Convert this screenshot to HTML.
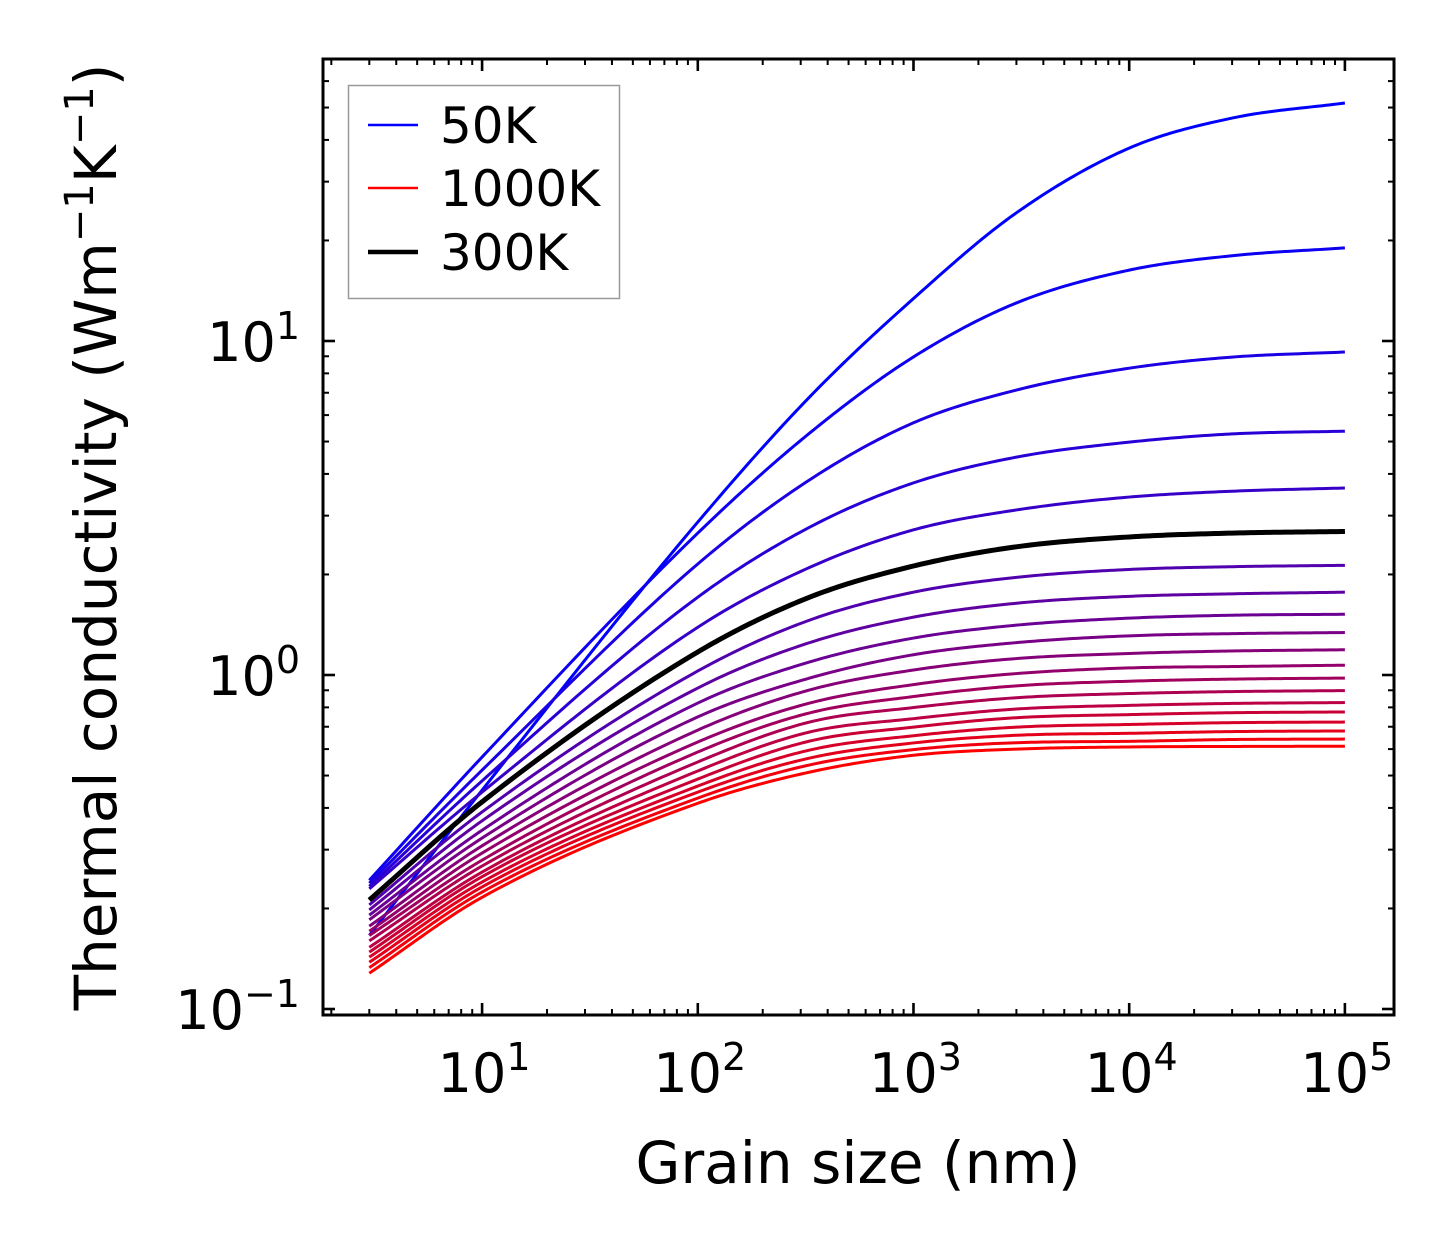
<!DOCTYPE html>
<html><head><meta charset="utf-8"><style>
body{margin:0;background:#fff}
svg{display:block;font-family:"DejaVu Sans","Liberation Sans",sans-serif}
</style></head><body>
<svg id="chart" width="1454" height="1254" viewBox="0 0 1454 1254">
<g id="lines"></g>
<g id="axes"></g>
</svg>
<script>
// Data (grain size nm -> W/mK)
const grainSizes = [3,10,100,330,1000,3000,1e4,3e4,1e5];
const k50   = [0.166,0.452,2.87,6.80,13.4,24.2,37.8,46.5,51.6];
const k100  = [0.243,0.568,2.66,5.30,8.96,13.0,16.3,18.0,19.0];
const k150  = [0.238,0.519,2.15,3.84,5.69,7.13,8.29,8.95,9.27];
const k200  = [0.233,0.482,1.71,2.77,3.76,4.49,4.98,5.27,5.37];
const k250  = [0.229,0.446,1.39,2.10,2.72,3.12,3.41,3.55,3.63];
const k300  = [0.212,0.417,1.172,1.71,2.12,2.42,2.59,2.66,2.69];
const k350  = [0.205,0.389,1.028,1.46,1.77,1.96,2.07,2.11,2.13];
const k400  = [0.198,0.366,0.914,1.25,1.49,1.64,1.72,1.75,1.77];
const k450  = [0.191,0.343,0.824,1.094,1.29,1.41,1.48,1.51,1.52];
const k500  = [0.185,0.325,0.749,0.979,1.15,1.25,1.31,1.33,1.34];
const k550  = [0.177,0.308,0.684,0.902,1.035,1.12,1.16,1.18,1.19];
const k600  = [0.171,0.293,0.630,0.824,0.936,1.01,1.05,1.06,1.07];
const k650  = [0.166,0.279,0.588,0.770,0.862,0.928,0.958,0.972,0.979];
const k700  = [0.160,0.268,0.549,0.723,0.799,0.855,0.880,0.892,0.898];
const k750  = [0.153,0.257,0.516,0.675,0.740,0.791,0.811,0.822,0.827];
const k800  = [0.148,0.249,0.488,0.634,0.698,0.745,0.761,0.771,0.775];
const k850  = [0.143,0.240,0.465,0.596,0.658,0.698,0.711,0.720,0.723];
const k900  = [0.138,0.232,0.446,0.564,0.626,0.660,0.669,0.677,0.680];
const k950  = [0.133,0.224,0.428,0.538,0.598,0.627,0.633,0.641,0.643];
const k1000 = [0.128,0.216,0.413,0.512,0.575,0.600,0.609,0.611,0.612];
const temps = [50,100,150,200,250,300,350,400,450,500,550,600,650,700,750,800,850,900,950,1000];
const series = [k50,k100,k150,k200,k250,k300,k350,k400,k450,k500,k550,k600,k650,k700,k750,k800,k850,k900,k950,k1000];
const xTicks = [1,2,3,4,5];
const yTicks = [-1,0,1];

const NS="http://www.w3.org/2000/svg";
const L=323,R=1394,T=59,B=1015;
const xLogMin=Math.log10(1.83), xLogMax=Math.log10(1.83)+(R-L)/215.7;
const yLogMax=1+(341-T)/334, yLogMin=1-(B-341)/334;
const X=v=>L+(Math.log10(v)-xLogMin)/(xLogMax-xLogMin)*(R-L);
const Y=v=>T+(yLogMax-Math.log10(v))/(yLogMax-yLogMin)*(B-T);
function mk(tag,attrs,parent){const e=document.createElementNS(NS,tag);for(const k in attrs)e.setAttribute(k,attrs[k]);parent.appendChild(e);return e;}
const lines=document.getElementById('lines');
const axes=document.getElementById('axes');

function curvePath(vals){
  const xs=grainSizes.map(Math.log10), ys=vals.map(Math.log10), n=xs.length;
  const d=[],m=new Array(n);
  for(let i=0;i<n-1;i++)d.push((ys[i+1]-ys[i])/(xs[i+1]-xs[i]));
  m[0]=d[0];m[n-1]=d[n-2];
  for(let i=1;i<n-1;i++){m[i]=(d[i-1]*d[i]<=0)?0:((d[i-1]+d[i])/2);}
  for(let i=0;i<n-1;i++){
    if(d[i]===0){m[i]=0;m[i+1]=0;continue;}
    const a=m[i]/d[i],b=m[i+1]/d[i],s=a*a+b*b;
    if(s>9){const t=3/Math.sqrt(s);m[i]=t*a*d[i];m[i+1]=t*b*d[i];}
  }
  let p='';
  for(let i=0;i<n-1;i++){
    const h=xs[i+1]-xs[i];
    for(let j=(i?1:0);j<=30;j++){
      const t=j/30,t2=t*t,t3=t2*t;
      const y=(2*t3-3*t2+1)*ys[i]+(t3-2*t2+t)*h*m[i]+(-2*t3+3*t2)*ys[i+1]+(t3-t2)*h*m[i+1];
      const x=xs[i]+t*h;
      p+=(p?'L':'M')+X(Math.pow(10,x)).toFixed(2)+','+Y(Math.pow(10,y)).toFixed(2);
    }
  }
  return p;
}
temps.forEach((t,i)=>{
  const f=i/(temps.length-1);
  const p=mk('path',{d:curvePath(series[i]),fill:'none',stroke:`rgb(${Math.round(255*f)},0,${Math.round(255*(1-f))})`,'stroke-width':3,'stroke-linejoin':'round'},lines);
  
  
});
const bp=mk('path',{d:curvePath(k300),fill:'none',stroke:'#000','stroke-width':5},lines);



const fr=mk('rect',{x:L,y:T,width:R-L,height:B-T,fill:'none',stroke:'#000','stroke-width':3},axes);



for(let dec=0;dec<=5;dec++){
  for(let m=1;m<10;m++){
    const v=m*Math.pow(10,dec);
    if(Math.log10(v)<xLogMin||Math.log10(v)>xLogMax)continue;
    const x=X(v),len=m===1?12:6;
    mk('line',{x1:x,y1:B,x2:x,y2:B-len,stroke:'#000','stroke-width':m===1?2.6:2},axes);
    mk('line',{x1:x,y1:T,x2:x,y2:T+len,stroke:'#000','stroke-width':m===1?2.6:2},axes);
  }
}
xTicks.forEach(e=>{
  const t=mk('text',{x:X(Math.pow(10,e))+2,y:1092,'text-anchor':'middle','font-size':54},axes);
  
  
  t.innerHTML='10<tspan dy="-22" font-size="38">'+e+'</tspan>';
});
for(let dec=-2;dec<=1;dec++){
  for(let m=1;m<10;m++){
    const v=m*Math.pow(10,dec);
    if(Math.log10(v)<yLogMin||Math.log10(v)>yLogMax)continue;
    const y=Y(v),len=m===1?12:6;
    mk('line',{x1:L,y1:y,x2:L+len,y2:y,stroke:'#000','stroke-width':m===1?2.6:2},axes);
    mk('line',{x1:R,y1:y,x2:R-len,y2:y,stroke:'#000','stroke-width':m===1?2.6:2},axes);
  }
}
yTicks.forEach(e=>{
  const t=mk('text',{x:300,y:Y(Math.pow(10,e))+20,'text-anchor':'end','font-size':54},axes);
  
  
  t.innerHTML='10<tspan dy="-22" font-size="38">'+(e<0?'\u22121':e)+'</tspan>';
});
const xl=mk('text',{x:858,y:1183,'text-anchor':'middle','font-size':58},axes);


xl.textContent='Grain size (nm)';
const yl=mk('text',{x:0,y:0,'text-anchor':'middle','font-size':58,transform:'translate(116,537) rotate(-90)'},axes);


yl.innerHTML='Thermal conductivity (Wm<tspan dy="-23" font-size="40">\u22121</tspan><tspan dy="23">K</tspan><tspan dy="-23" font-size="40">\u22121</tspan><tspan dy="23">)</tspan>';

const lg=mk('g',{},axes);


mk('rect',{x:348.5,y:85.5,width:271,height:213,fill:'#fff',stroke:'#999','stroke-width':1.5},lg);
[['50K','rgb(0,0,255)',2.6,125],['1000K','rgb(255,0,0)',2.6,188],['300K','#000',4.5,252]].forEach(([lab,c,w,y])=>{
  const g=mk('g',{},lg);
  
  
  mk('line',{x1:368,y1:y,x2:418,y2:y,stroke:c,'stroke-width':w},g);
  const t=mk('text',{x:440,y:y+18,'font-size':50},g);
  t.textContent=lab;
});
</script>
</body></html>
